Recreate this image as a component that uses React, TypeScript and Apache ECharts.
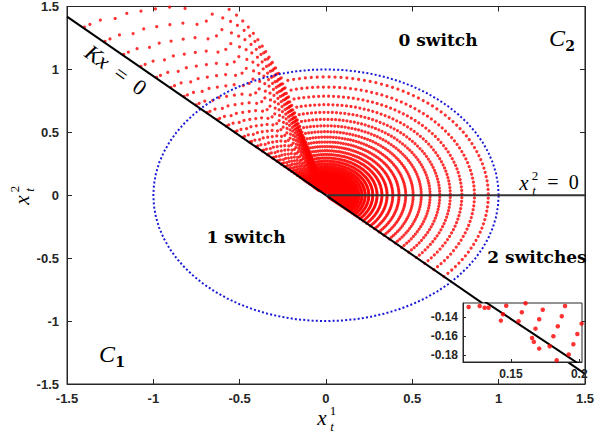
import React, { useEffect, useRef } from "react";
import * as echarts from "echarts";

// ---- data ----
const axisTicks = [-1.5, -1, -0.5, 0, 0.5, 1, 1.5];
// radii of the red concentric arcs
const arcRadii = [0.94, 0.86, 0.787, 0.72, 0.659, 0.603, 0.552, 0.505, 0.462, 0.423, 0.387, 0.354, 0.324, 0.296, 0.271, 0.248, 0.227, 0.208, 0.19, 0.174, 0.159, 0.146, 0.133, 0.122, 0.112, 0.102, 0.093, 0.085, 0.078, 0.072, 0.066, 0.06, 0.055, 0.05, 0.046, 0.042, 0.038, 0.035, 0.032, 0.029, 0.027, 0.025];
// angular positions (deg) of dots along each arc
const arcAngles = [-43.4, -41.3, -39.2, -37.1, -35, -32.9, -30.8, -28.7, -26.6, -24.5, -22.4, -20.3, -18.2, -16.1, -14, -11.9, -9.8, -7.7, -5.6, -3.5, -1.4, 0.7, 2.8, 4.9, 7, 9.1, 11.2, 13.3, 15.4, 17.5, 19.6, 21.7, 23.8, 25.9, 28, 30.1, 32.2, 34.3, 36.4, 38.5, 40.6, 42.7, 44.8, 46.9, 49, 51.1, 53.2, 55.3, 57.4, 59.5, 61.6, 63.7, 65.8, 67.9, 70, 72.1, 74.2, 76.3, 78.4, 80.5, 82.6, 84.7, 86.8, 88.9, 91, 93.1, 95.2, 97.3, 99.4, 101.5, 103.6];
// fan (1 switch) profile: angle (deg) and relative radius
const fanAngles = [105.5, 105.8, 106.1, 106.4, 106.7, 107.0, 107.3, 107.7, 108.1, 108.6, 109.2, 109.9, 110.8, 111.8, 113.0, 114.6, 116.6, 118.8, 121.2, 123.7, 126.2, 128.6, 131.0, 133.2, 135.2, 136.3];
const fanRadii = [1.03, 1.07, 1.12, 1.17, 1.22, 1.27, 1.32, 1.38, 1.44, 1.5, 1.56, 1.62, 1.68, 1.73, 1.78, 1.84, 1.8, 1.97, 1.86, 2.07, 1.93, 2.15, 1.98, 2.22, 2.05, 2.25];
const gainLine = [[-1.5, 1.42], [1.5, -1.42]];
const halfAxisLine = [[0, 0], [1.5, 0]];
const unitCircleAngles = [0, 5, 10, 15, 20, 25, 30, 35, 40, 45, 50, 55, 60, 65, 70, 75, 80, 85, 90, 95, 100, 105, 110, 115, 120, 125, 130, 135, 140, 145, 150, 155, 160, 165, 170, 175, 180, 185, 190, 195, 200, 205, 210, 215, 220, 225, 230, 235, 240, 245, 250, 255, 260, 265, 270, 275, 280, 285, 290, 295, 300, 305, 310, 315, 320, 325, 330, 335, 340, 345, 350, 355, 360];
const insetPoints = [
  [0.1191, -0.1296], [0.1272, -0.1285], [0.1308, -0.1303], [0.1337, -0.1303], [0.1466, -0.1282],
  [0.1607, -0.1256], [0.1733, -0.1324], [0.1896, -0.1285], [0.1442, -0.1372], [0.158, -0.1351],
  [0.1427, -0.1438], [0.1556, -0.1445], [0.1707, -0.1424], [0.1872, -0.1393], [0.168, -0.1522],
  [0.1843, -0.1497], [0.2017, -0.1469], [0.1655, -0.1619], [0.1668, -0.166], [0.1784, -0.1706],
  [0.1707, -0.173], [0.1811, -0.1601], [0.1986, -0.1577], [0.1957, -0.1685], [0.1923, -0.1792],
  [0.1835, -0.1851],
];
const insetXTicks = [0.15, 0.2];
const insetYTicks = [-0.18, -0.16, -0.14];

const rad = (d: number) => (d * Math.PI) / 180;
const redPoints: number[][] = [];
arcRadii.forEach((r) => {
  arcAngles.forEach((a) => redPoints.push([r * Math.cos(rad(a)), r * Math.sin(rad(a))]));
  fanAngles.forEach((a, i) =>
    redPoints.push([r * fanRadii[i] * Math.cos(rad(a)), r * fanRadii[i] * Math.sin(rad(a))])
  );
});
const circlePoints = unitCircleAngles.map((a) => [Math.cos(rad(a)), Math.sin(rad(a))]);

const AX = "#262626";
const SERIF = "'Liberation Serif', 'DejaVu Serif', serif";
const BOLDSERIF = "'DejaVu Serif', serif";

function txt(x: number, y: number, text: string, size: number, extra: any = {}) {
  return {
    type: "text",
    x,
    y,
    z: 20,
    style: {
      text,
      fontSize: size,
      fontFamily: SERIF,
      fill: "#000",
      textAlign: "center",
      textVerticalAlign: "middle",
      ...extra,
    },
  };
}

export default function App() {
  const ref = useRef<HTMLDivElement>(null);
  useEffect(() => {
    document.body.style.margin = "0";
    const chart = echarts.init(ref.current!, null, { renderer: "svg" });
    const tickLabel = { fontFamily: "'Liberation Sans', Arial, sans-serif", fontWeight: "bold", fontSize: 13, color: AX };
    const mainAxisCommon = {
      type: "value",
      min: axisTicks[0],
      max: axisTicks[axisTicks.length - 1],
      interval: 0.5,
      splitLine: { show: false },
      axisLine: { show: true, onZero: false, lineStyle: { color: AX, width: 1 } },
      axisTick: { show: true, inside: true, length: 5, lineStyle: { color: AX } },
    };
    const option: any = {
      animation: false,
      backgroundColor: "#fff",
      grid: [
        { left: 67, right: 10, top: 5, bottom: 56, show: true, borderColor: AX, borderWidth: 1, backgroundColor: "transparent" },
        { left: 463, top: 303, width: 119, height: 59, show: true, borderColor: AX, borderWidth: 1, backgroundColor: "#fff", z: 3 },
      ],
      xAxis: [
        { ...mainAxisCommon, gridIndex: 0, position: "bottom", axisLabel: { ...tickLabel, margin: 8 } },
        { ...mainAxisCommon, gridIndex: 0, position: "top", axisLabel: { show: false } },
        {
          type: "value", gridIndex: 1, min: 0.115, max: 0.202, position: "bottom", z: 4,
          splitLine: { show: false },
          axisLine: { show: true, onZero: false, lineStyle: { color: AX } },
          axisTick: { show: true, inside: true, length: 3, customValues: insetXTicks, lineStyle: { color: AX } },
          axisLabel: { ...tickLabel, fontSize: 12, margin: 6, customValues: insetXTicks },
        },
      ],
      yAxis: [
        { ...mainAxisCommon, gridIndex: 0, position: "left", axisLabel: { ...tickLabel, margin: 8 } },
        { ...mainAxisCommon, gridIndex: 0, position: "right", axisLabel: { show: false } },
        {
          type: "value", gridIndex: 1, min: -0.187, max: -0.1254, position: "left", z: 4,
          splitLine: { show: false },
          axisLine: { show: true, onZero: false, lineStyle: { color: AX } },
          axisTick: { show: true, inside: true, length: 3, customValues: insetYTicks, lineStyle: { color: AX } },
          axisLabel: { ...tickLabel, fontSize: 12, margin: 5, customValues: insetYTicks },
        },
      ],
      series: [
        {
          type: "scatter", xAxisIndex: 0, yAxisIndex: 0, data: redPoints, symbol: "circle", symbolSize: 3.2,
          itemStyle: { color: "#ff0000" }, silent: true, clip: true, z: 2,
        },
        {
          type: "line", xAxisIndex: 0, yAxisIndex: 0, data: circlePoints, showSymbol: false, smooth: false,
          lineStyle: { color: "#1a1ad6", width: 2, type: [2, 2.2] }, silent: true, z: 2,
        },
        {
          type: "line", xAxisIndex: 0, yAxisIndex: 0, data: gainLine, showSymbol: false,
          lineStyle: { color: "#000", width: 2 }, silent: true, z: 2,
        },
        {
          type: "line", xAxisIndex: 0, yAxisIndex: 0, data: halfAxisLine, showSymbol: false,
          lineStyle: { color: "#333", width: 2 }, silent: true, z: 2,
        },
        {
          type: "scatter", xAxisIndex: 2, yAxisIndex: 2, data: insetPoints, symbol: "circle", symbolSize: 4.5,
          itemStyle: { color: "#ff0000" }, silent: true, clip: true, z: 5,
        },
        {
          type: "line", xAxisIndex: 2, yAxisIndex: 2, data: gainLine, showSymbol: false, clip: true,
          lineStyle: { color: "#000", width: 2 }, silent: true, z: 5,
        },
      ],
      graphic: [
        txt(438, 40, "0 switch", 17, { fontFamily: BOLDSERIF, fontWeight: "bold" }),
        txt(246, 237, "1 switch", 17, { fontFamily: BOLDSERIF, fontWeight: "bold" }),
        txt(537, 257, "2 switches", 17, { fontFamily: BOLDSERIF, fontWeight: "bold" }),
        // C2
        txt(557, 38, "C", 24, { fontStyle: "italic" }),
        txt(570, 46, "2", 14, { fontFamily: BOLDSERIF, fontWeight: "bold" }),
        // C1
        txt(107, 354, "C", 24, { fontStyle: "italic" }),
        txt(120, 362, "1", 14, { fontFamily: BOLDSERIF, fontWeight: "bold" }),
        // Kx = 0
        {
          type: "text", x: 116, y: 70, rotation: -0.62, z: 20,
          style: {
            text: "{i|Kx}{n|  =  0}",
            textAlign: "center",
            textVerticalAlign: "middle",
            rich: {
              i: { fontSize: 22, fontStyle: "italic", fontFamily: SERIF, fill: "#000" },
              n: { fontSize: 22, fontFamily: SERIF, fill: "#000" },
            },
          },
        },
        // x_t^2 = 0
        txt(524, 183, "x", 21, { fontStyle: "italic" }),
        txt(535, 175, "2", 13),
        txt(534, 190, "t", 13, { fontStyle: "italic" }),
        txt(563, 182, "=  0", 20),
        // x axis name
        txt(322, 418, "x", 21, { fontStyle: "italic" }),
        txt(333, 410, "1", 13),
        txt(332, 426, "t", 13, { fontStyle: "italic" }),
        // y axis name (rotated)
        {
          type: "group", x: 22, y: 200, rotation: Math.PI / 2, z: 20,
          children: [
            txt(0, 0, "x", 21, { fontStyle: "italic" }),
            txt(11, -8, "2", 13),
            txt(10, 7, "t", 13, { fontStyle: "italic" }),
          ],
        },
      ],
    };
    chart.setOption(option);
    return () => chart.dispose();
  }, []);
  return <div ref={ref} style={{ width: 597, height: 440 }} />;
}
